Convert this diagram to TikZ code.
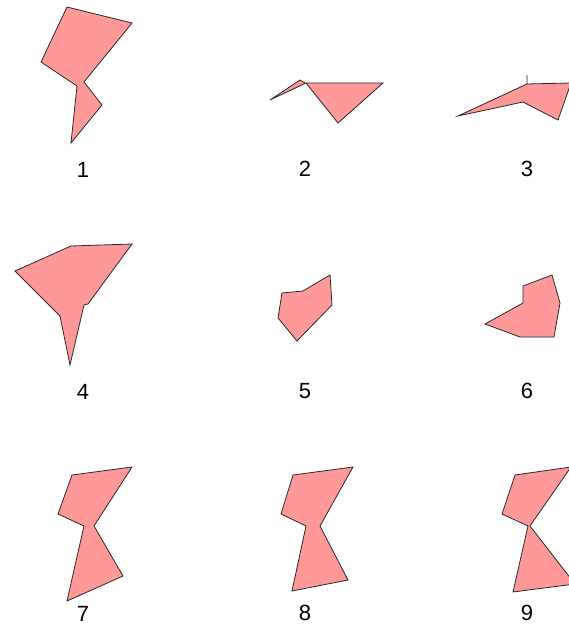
\documentclass[tikz,border=0pt]{standalone}
\usepackage{fontspec}
\setmainfont{Liberation Sans}
\definecolor{shapePink}{RGB}{255,153,153}
\definecolor{edgeGray}{RGB}{40,40,40}
\usepackage{tikz}

\begin{document}
\begin{tikzpicture}[x=1pt, y=-1pt,
    blob/.style={draw=edgeGray, line width=0.8pt, fill=shapePink, line join=miter},
    num/.style={font=\fontsize{22}{26}\selectfont, inner sep=0pt}
  ]
    \useasboundingbox (0,0) rectangle (569,627);
    \clip (0,0) rectangle (569,627);

    % row 1
    \draw[blob] (67,7) -- (132,23) -- (84,82) -- (102,105) -- (71,143)
      -- (77,86) -- (41,62) -- cycle;
    \draw[blob] (270,100) -- (300,80) -- (305,83) -- (383,83) -- (338,123)
      -- (306,83) -- cycle;
    \draw[blob] (458,116) -- (527,84) -- (527,75) -- (527,84) -- (571,83)
      -- (558,120) -- (523,102) -- cycle;

    % row 2
    \draw[blob] (15,271) -- (71,246) -- (132,244) -- (88,304) -- (84,305)
      -- (70,365) -- (60,316) -- cycle;
    \draw[blob] (282,293) -- (303,291) -- (330,275) -- (332,305) -- (297,341)
      -- (278,318) -- cycle;
    \draw[blob] (523,286) -- (552,275) -- (560,303) -- (554,337) -- (520,337)
      -- (485,324) -- (523,303) -- cycle;

    % row 3
    \draw[blob] (72,475) -- (132,467) -- (94,526) -- (123,576) -- (67,601)
      -- (84,526) -- (58,514) -- cycle;
    \draw[blob] (293,475) -- (353,467) -- (320,526) -- (348,580) -- (292,591)
      -- (306,526) -- (281,514) -- cycle;
    \draw[blob] (515,475) -- (571,467) -- (530,526) -- (575,584) -- (513,592)
      -- (528,526) -- (502,514) -- cycle;

    \node[num] (n1) at (83,170) {1};
    \node[num] (n2) at (305,169) {2};
    \node[num] (n3) at (527,169) {3};
    \node[num] (n4) at (83,392) {4};
    \node[num] (n5) at (305,391) {5};
    \node[num] (n6) at (527,391) {6};
    \node[num] (n7) at (83,614) {7};
    \node[num] (n8) at (305,613) {8};
    \node[num] (n9) at (527,613) {9};
  \end{tikzpicture}
\end{document}
